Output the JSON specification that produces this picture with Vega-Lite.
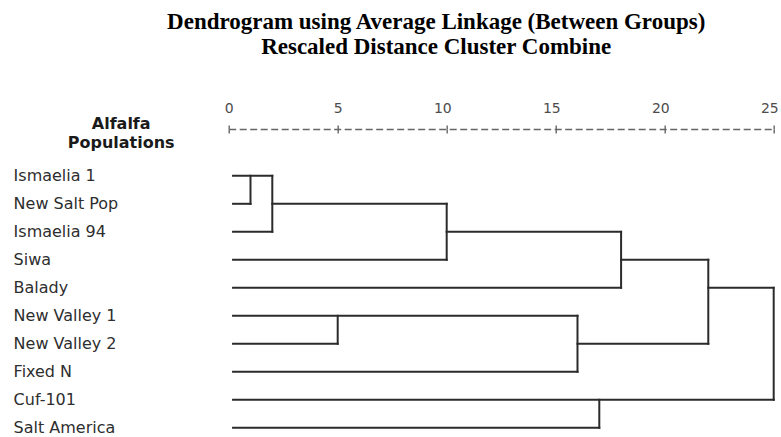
{
  "$schema": "https://vega.github.io/schema/vega-lite/v6.json",
  "width": 545,
  "height": 271.6,
  "autosize": {"type": "pad"},
  "padding": {"left": 12.7, "top": 10, "right": 2, "bottom": 0},
  "background": "white",
  "title": {
    "text": ["Dendrogram using Average Linkage (Between Groups)", "Rescaled Distance Cluster Combine"],
    "font": "Liberation Serif",
    "fontSize": 23,
    "fontWeight": "bold",
    "lineHeight": 25,
    "color": "#000000",
    "anchor": "middle",
    "frame": "group",
    "dx": -65,
    "offset": 42.5
  },
  "config": {"view": {"stroke": null}},
  "datasets": {
    "horizontal": [
      {"row": "Ismaelia 1", "from": 0.2, "to": 2},
      {"row": "New Salt Pop", "from": 0.2, "to": 1},
      {"row": "Ismaelia 94", "from": 0.2, "to": 2},
      {"row": "Siwa", "from": 0.2, "to": 10},
      {"row": "Balady", "from": 0.2, "to": 18},
      {"row": "New Valley 1", "from": 0.2, "to": 16},
      {"row": "New Valley 2", "from": 0.2, "to": 5},
      {"row": "Fixed N", "from": 0.2, "to": 16},
      {"row": "Cuf-101", "from": 0.2, "to": 25},
      {"row": "Salt America", "from": 0.2, "to": 17},
      {"row": "New Salt Pop", "from": 2, "to": 10},
      {"row": "Ismaelia 94", "from": 10, "to": 18},
      {"row": "Siwa", "from": 18, "to": 22},
      {"row": "New Valley 2", "from": 16, "to": 22},
      {"row": "Balady", "from": 22, "to": 25}
    ],
    "vertical": [
      {"dist": 1, "top": "Ismaelia 1", "bottom": "New Salt Pop"},
      {"dist": 2, "top": "Ismaelia 1", "bottom": "Ismaelia 94"},
      {"dist": 10, "top": "New Salt Pop", "bottom": "Siwa"},
      {"dist": 18, "top": "Ismaelia 94", "bottom": "Balady"},
      {"dist": 5, "top": "New Valley 1", "bottom": "New Valley 2"},
      {"dist": 16, "top": "New Valley 1", "bottom": "Fixed N"},
      {"dist": 22, "top": "Siwa", "bottom": "New Valley 2"},
      {"dist": 17, "top": "Cuf-101", "bottom": "Salt America"},
      {"dist": 25, "top": "Balady", "bottom": "Cuf-101"}
    ]
  },
  "layer": [
    {
      "data": {"name": "horizontal"},
      "mark": {"type": "rule", "color": "#2b2b2b", "strokeWidth": 2, "strokeCap": "square"},
      "encoding": {
        "x": {
          "field": "from", "type": "quantitative",
          "scale": {"domain": [0, 25], "nice": false, "zero": false},
          "axis": {
            "orient": "top", "offset": 37, "values": [0, 5, 10, 15, 20, 25], "title": null, "grid": false,
            "domain": true, "domainDash": [7, 3.5], "domainColor": "#666666", "domainWidth": 1.3,
            "ticks": true, "tickSize": 4, "tickColor": "#666666", "tickWidth": 1.4,
            "labels": true, "labelFont": "DejaVu Sans", "labelFontSize": 14, "labelColor": "#4d4d4d",
            "labelAlign": "right", "labelOffset": 4.5, "labelBaseline": "alphabetic", "labelPadding": 12.6,
            "labelFlush": false, "labelOverlap": false
          }
        },
        "x2": {"field": "to"},
        "y": {
          "field": "row", "type": "nominal", "sort": null,
          "scale": {"type": "point", "padding": 0.35, "domain": ["Ismaelia 1", "New Salt Pop", "Ismaelia 94", "Siwa", "Balady", "New Valley 1", "New Valley 2", "Fixed N", "Cuf-101", "Salt America"]},
          "axis": {
            "title": ["Alfalfa", "Populations"], "titleFont": "DejaVu Sans", "titleFontSize": 16, "titleFontWeight": "bold",
            "titleColor": "#1a1a1a", "titleAngle": 0, "titleAlign": "center", "titleBaseline": "middle",
            "titleX": -108, "titleY": -42, "titleLineHeight": 19,
            "domain": false, "ticks": false, "tickSize": 0, "grid": false,
            "labelPadding": 215.6, "labelAlign": "left", "labelBaseline": "middle",
            "labelFont": "DejaVu Sans", "labelFontSize": 16, "labelColor": "#2e2e2e", "labelLimit": 0
          }
        }
      }
    },
    {
      "data": {"name": "vertical"},
      "mark": {"type": "rule", "color": "#2b2b2b", "strokeWidth": 2, "strokeCap": "square"},
      "encoding": {
        "x": {
          "field": "dist", "type": "quantitative",
          "axis": {
            "orient": "top", "offset": 37, "values": [0, 5, 10, 15, 20, 25], "title": null, "grid": false,
            "domain": false, "labels": false, "ticks": true, "tickSize": -4, "tickColor": "#666666", "tickWidth": 1.4
          }
        },
        "y": {
          "field": "top", "type": "nominal", "sort": null,
          "axis": {
            "title": ["Alfalfa", "Populations"], "titleFont": "DejaVu Sans", "titleFontSize": 16, "titleFontWeight": "bold",
            "titleColor": "#1a1a1a", "titleAngle": 0, "titleAlign": "center", "titleBaseline": "middle",
            "titleX": -108, "titleY": -42, "titleLineHeight": 19,
            "domain": false, "ticks": false, "tickSize": 0, "grid": false,
            "labelPadding": 215.6, "labelAlign": "left", "labelBaseline": "middle",
            "labelFont": "DejaVu Sans", "labelFontSize": 16, "labelColor": "#2e2e2e", "labelLimit": 0
          }
        },
        "y2": {"field": "bottom"}
      }
    }
  ],
  "resolve": {"axis": {"x": "independent"}}
}
